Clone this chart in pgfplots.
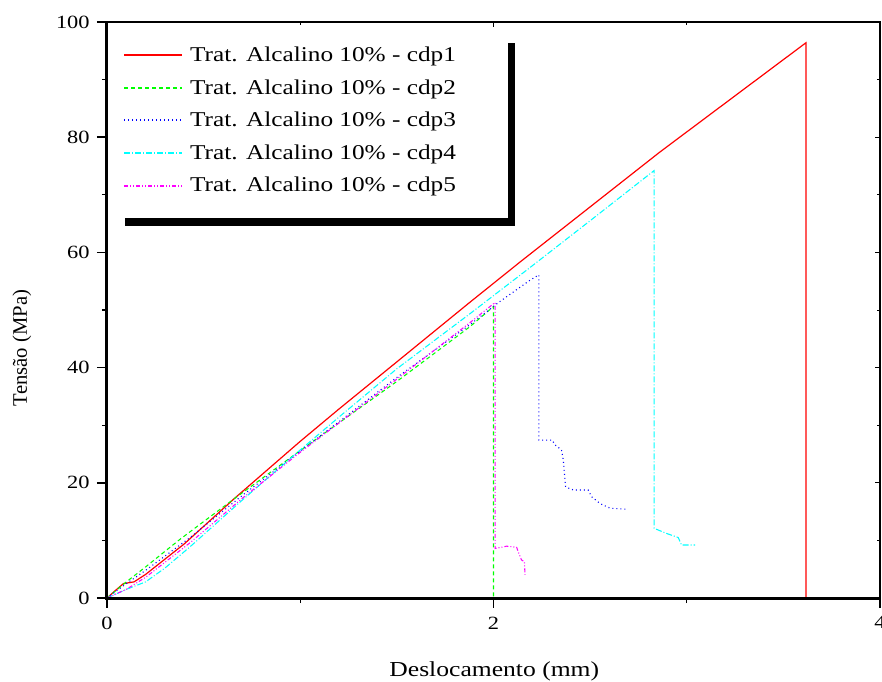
\documentclass[border=0pt]{standalone}
\usepackage{fontspec}
\setmainfont{Liberation Serif}[FakeStretch=1.2]
\newfontfamily\uprightserif{Liberation Serif}
\usepackage{pgfplots}
\pgfplotsset{compat=1.18}

\definecolor{cRed}{RGB}{255,0,0}
\definecolor{cGreen}{RGB}{0,255,0}
\definecolor{cBlue}{RGB}{0,0,255}
\definecolor{cCyan}{RGB}{0,255,255}
\definecolor{cMagenta}{RGB}{255,0,255}

\newcommand\leg[1]{\makebox[234.75pt][l]{#1}}

\begin{document}
\begin{tikzpicture}
\begin{axis}[
  at={(0pt,0pt)}, anchor=south west,
  width=579.75pt, height=432pt, scale only axis,
  xmin=0, xmax=4, ymin=0, ymax=100,
  xtick={0,2,4}, ytick={0,20,...,100},
  minor x tick num=1, minor y tick num=1,
  tick pos=left, tick align=outside,
  major tick length=7.5pt, minor tick length=3.75pt,
  every major tick/.append style={line width=1.2pt, black},
  every minor tick/.append style={line width=1pt, black},
  axis line style={line width=0.8pt},
  ticklabel style={font=\fontsize{14}{16}\selectfont},
  /pgf/number format/assume math mode=true,
  xticklabel style={yshift=-3pt},
  yticklabel style={xshift=-2pt},
  xlabel={Deslocamento (mm)},
  ylabel={\uprightserif\fontsize{15.5}{18}\selectfont Tensão (MPa)},
  label style={font=\fontsize{16}{19}\selectfont},
  xlabel style={at={(axis description cs:0.501,-0.1267)}, anchor=center},
  ylabel style={at={(axis description cs:-0.11,0.434)}, anchor=center},
  legend cell align=left,
  legend image code/.code={\draw[#1, line width=1.4pt] (0pt,0pt) -- (43.5pt,0pt);},
  legend style={name=leg, at={(axis description cs:0.0142,0.977)}, anchor=north west,
    draw=white, fill=white,
    font=\fontsize{15.8}{19}\selectfont,
    inner xsep=3.75pt, inner ysep=8.5pt, row sep=12pt, column sep=5.25pt,
    nodes={inner sep=0pt}},
  after end axis/.code={
    \draw[line width=2.25pt] (rel axis cs:0,1) -- (rel axis cs:0,0) -- (rel axis cs:1,0);
  },
]
% cdp1
\addplot[color=cRed, line width=0.9pt] coordinates {
  (0,0) (0.04,1.2) (0.085,2.5) (0.14,2.8) (0.2,4.1) (0.4,9.4) (0.66,17.3)
  (1.0,27.2) (1.2,32.8) (1.5,41.0) (1.88,51.4) (2.14,58.4) (2.86,77.4)
  (3.617,96.4) (3.617,0)
};
\addlegendentry{\leg{Trat. Alcalino 10\% - cdp1}}
% cdp2
\addplot[color=cGreen, line width=0.8pt, dash pattern=on 3pt off 2.25pt] coordinates {
  (0,0) (0.1,2.8) (0.2,5.4) (0.378,10.2) (0.653,17.1) (1.0,25.6)
  (1.5,37.6) (1.878,47.1) (2.0,50.6) (2.0,0)
};
\addlegendentry{\leg{Trat. Alcalino 10\% - cdp2}}
% cdp3
\addplot[color=cBlue, line width=0.8pt, dash pattern=on 0.75pt off 2.25pt] coordinates {
  (0,0) (0.1,2.5) (0.2,4.8) (0.43,10.5) (0.7,17.8) (1.0,25.5) (1.2,30.6)
  (1.5,38.3) (1.88,47.5) (2.03,51.4) (2.19,55.2) (2.235,56.1) (2.235,27.4)
  (2.304,27.4) (2.318,26.6) (2.352,25.7) (2.361,24.0) (2.373,19.3)
  (2.413,18.75) (2.49,18.75) (2.507,17.6) (2.551,16.4) (2.603,15.6) (2.689,15.4)
};
\addlegendentry{\leg{Trat. Alcalino 10\% - cdp3}}
% cdp4
\addplot[color=cCyan, line width=0.8pt, dash pattern=on 4.5pt off 1.5pt on 0.75pt off 1.5pt] coordinates {
  (0,0) (0.1,1.5) (0.2,2.8) (0.3,5.2) (0.43,8.9) (0.7,17.0) (1.0,25.7)
  (1.2,31.4) (1.5,39.8) (1.88,49.4) (2.19,57.4) (2.5,65.5) (2.831,74.2)
  (2.831,12.1) (2.896,11.2) (2.956,10.5) (2.973,9.2) (3.043,9.2)
};
\addlegendentry{\leg{Trat. Alcalino 10\% - cdp4}}
% cdp5
\addplot[color=cMagenta, line width=0.8pt, dash pattern=on 3pt off 1.5pt on 0.75pt off 1.5pt on 0.75pt off 1.5pt] coordinates {
  (0,0) (0.1,1.5) (0.2,3.6) (0.43,9.6) (0.7,17.3) (1.0,25.3) (1.5,38.0)
  (1.878,47.8) (2.008,51.3) (2.008,8.6) (2.04,8.8) (2.068,9.0) (2.12,8.8)
  (2.128,8.0) (2.145,6.6) (2.16,6.3) (2.163,4.0)
};
\addlegendentry{\leg{Trat. Alcalino 10\% - cdp5}}
\end{axis}
\begin{axis}[
  at={(0pt,0pt)}, anchor=south west,
  width=579.75pt, height=432pt, scale only axis,
  xmin=0, xmax=4, ymin=0, ymax=100,
  xtick={0,2,4}, ytick={0,20,...,100},
  minor x tick num=1, minor y tick num=1,
  tick pos=right, tick align=inside,
  xticklabels={}, yticklabels={},
  major tick length=4pt, minor tick length=2.5pt,
  every tick/.append style={line width=0.6pt, black},
  axis line style={line width=0.8pt},
]
\end{axis}
% legend box bottom padding and shadow
\fill[white] (leg.south west) rectangle ([yshift=-9pt]leg.south east);
\fill[black] ([yshift=-6pt]leg.north east) rectangle ([xshift=5.25pt,yshift=-15pt]leg.south east);
\fill[black] ([xshift=5.25pt,yshift=-9pt]leg.south west) rectangle ([xshift=5.25pt,yshift=-15pt]leg.south east);
\pgfresetboundingbox
\path[use as bounding box] (-80.25pt,-63pt) rectangle (581.25pt,448.5pt);
\end{tikzpicture}
\end{document}
